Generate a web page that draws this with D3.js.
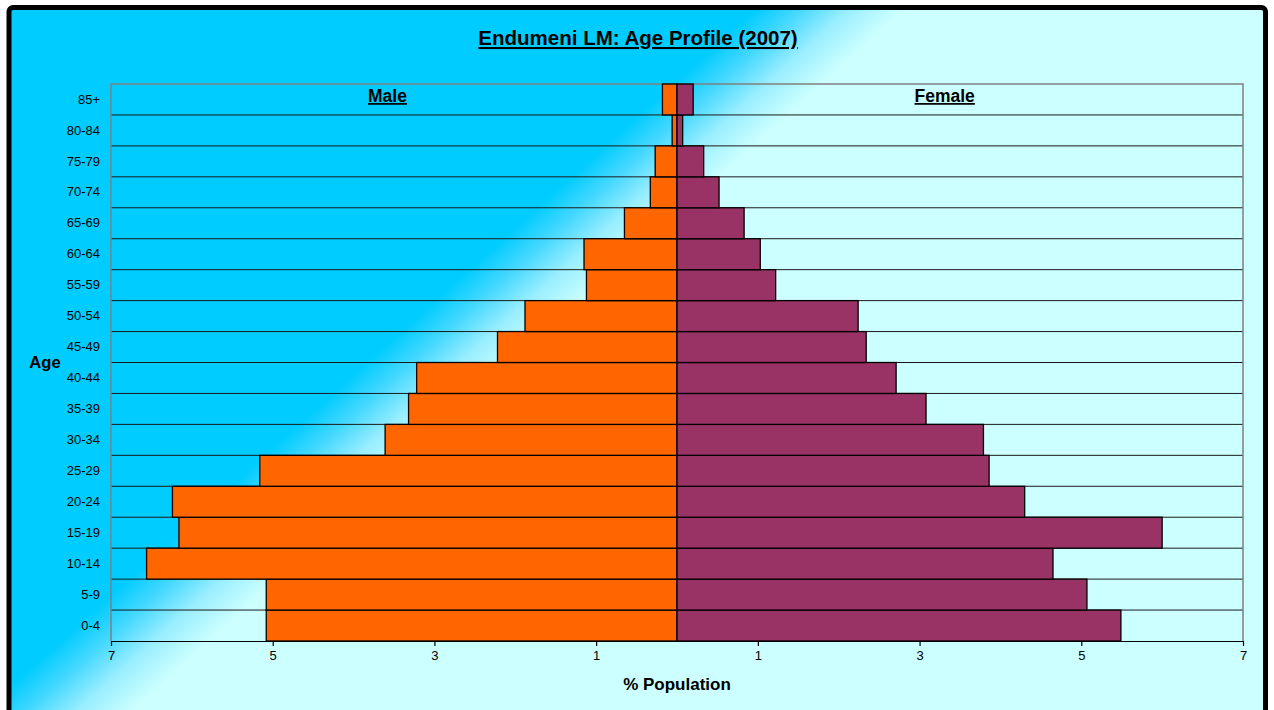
<!DOCTYPE html>
<html>
<head>
<meta charset="utf-8">
<script src="https://cdn.jsdelivr.net/npm/d3@7"></script>
<style>
  html, body { margin: 0; padding: 0; background: #ffffff; }
  svg { display: block; font-family: "Liberation Sans", Arial, sans-serif; }
</style>
</head>
<body>
<svg id="chart" width="1274" height="710"></svg>
<script>
// Age groups, youngest first
const ageGroups = ["0-4", "5-9", "10-14", "15-19", "20-24", "25-29", "30-34", "35-39",
  "40-44", "45-49", "50-54", "55-59", "60-64", "65-69", "70-74", "75-79", "80-84", "85+"];

// Share of total population (%) per age group
const malePct = [5.08, 5.08, 6.56, 6.16, 6.24, 5.16, 3.61, 3.32,
  3.22, 2.22, 1.88, 1.12, 1.15, 0.65, 0.33, 0.27, 0.06, 0.18];
const femalePct = [5.49, 5.07, 4.65, 6.00, 4.30, 3.86, 3.79, 3.08,
  2.71, 2.34, 2.24, 1.22, 1.03, 0.83, 0.52, 0.33, 0.07, 0.20];

// Axis ticks (males plotted to the left as negatives, labelled as absolute values)
const xTicks = [-7, -5, -3, -1, 1, 3, 5, 7];

const titleText = "Endumeni LM: Age Profile (2007)";

const svg = d3.select("#chart");

// Background gradient: deep sky blue to pale cyan along a diagonal
const defs = svg.append("defs");
const grad = defs.append("linearGradient")
  .attr("id", "bgGrad")
  .attr("gradientUnits", "userSpaceOnUse")
  .attr("x1", 0).attr("y1", 0)
  .attr("x2", 672.5).attr("y2", 739.7);
grad.append("stop").attr("offset", 0.515).attr("stop-color", "#00CCFF");
grad.append("stop").attr("offset", 0.545).attr("stop-color", "#44D8FF");
grad.append("stop").attr("offset", 0.578).attr("stop-color", "#99EEFF");
grad.append("stop").attr("offset", 0.615).attr("stop-color", "#CCFFFF");

// Chart frame
svg.append("rect")
  .attr("x", 9).attr("y", 7.5)
  .attr("width", 1256.5).attr("height", 740)
  .attr("rx", 4)
  .attr("fill", "url(#bgGrad)")
  .attr("stroke", "#000").attr("stroke-width", 5);

// Plot area
const plot = { left: 111, right: 1243, top: 84, bottom: 641 };

const x = d3.scaleLinear().domain([-7, 7]).range([plot.left, plot.right]);
const y = d3.scaleBand()
  .domain(ageGroups.slice().reverse())
  .range([plot.top, plot.bottom])
  .paddingInner(0).paddingOuter(0);

const rows = ageGroups.map((g, i) => ({ group: g, male: malePct[i], female: femalePct[i] }));

// Row separators spanning the plot width
const g = svg.append("g");
const bounds = y.domain().slice(1).map(d => y(d));
g.selectAll("line.sep").data(bounds).join("line")
  .attr("class", "sep")
  .attr("x1", plot.left).attr("x2", plot.right)
  .attr("y1", d => d).attr("y2", d => d)
  .attr("stroke", "#1a1a1a").attr("stroke-width", 1);

// Plot border (left, top, right)
g.append("path")
  .attr("d", `M${plot.left},${plot.bottom}V${plot.top}H${plot.right}V${plot.bottom}`)
  .attr("fill", "none").attr("stroke", "#808080").attr("stroke-width", 1.5);

// Male bars (left)
g.selectAll("rect.male").data(rows).join("rect")
  .attr("class", "male")
  .attr("x", d => x(-d.male))
  .attr("y", d => y(d.group))
  .attr("width", d => x(0) - x(-d.male))
  .attr("height", y.bandwidth())
  .attr("fill", "#FF6600")
  .attr("stroke", "#000").attr("stroke-width", 1.3);

// Female bars (right)
g.selectAll("rect.female").data(rows).join("rect")
  .attr("class", "female")
  .attr("x", x(0))
  .attr("y", d => y(d.group))
  .attr("width", d => x(d.female) - x(0))
  .attr("height", y.bandwidth())
  .attr("fill", "#993366")
  .attr("stroke", "#000").attr("stroke-width", 1.3);

// Bottom value axis
const xAxis = d3.axisBottom(x)
  .tickValues(xTicks)
  .tickFormat(d => Math.abs(d))
  .tickSizeInner(5).tickSizeOuter(0).tickPadding(5);
const xa = svg.append("g")
  .attr("transform", `translate(0,${plot.bottom})`)
  .call(xAxis);
xa.select(".domain").attr("stroke", "#000").attr("stroke-width", 1.2);
xa.selectAll(".tick line").attr("stroke", "#000").attr("stroke-width", 1.2);
xa.selectAll(".tick text")
  .attr("font-size", 13).attr("fill", "#000")
  .attr("font-family", "Liberation Sans, Arial, sans-serif");

// Category labels
const ya = svg.append("g")
  .attr("transform", `translate(${plot.left},0)`)
  .call(d3.axisLeft(y).tickSize(0).tickPadding(11));
ya.select(".domain").remove();
ya.selectAll(".tick text")
  .attr("font-size", 13).attr("fill", "#000")
  .attr("font-family", "Liberation Sans, Arial, sans-serif");

// Title
svg.append("text")
  .attr("x", 638).attr("y", 45)
  .attr("text-anchor", "middle")
  .attr("font-size", 20.5).attr("font-weight", "bold")
  .style("text-decoration", "underline")
  .text(titleText);

// Series labels inside the plot
svg.append("text")
  .attr("x", 387.5).attr("y", 102)
  .attr("text-anchor", "middle")
  .attr("font-size", 17.5).attr("font-weight", "bold")
  .style("text-decoration", "underline")
  .text("Male");
svg.append("text")
  .attr("x", 944.7).attr("y", 102)
  .attr("text-anchor", "middle")
  .attr("font-size", 17.5).attr("font-weight", "bold")
  .style("text-decoration", "underline")
  .text("Female");

// Axis titles
svg.append("text")
  .attr("x", 45).attr("y", 368)
  .attr("text-anchor", "middle")
  .attr("font-size", 16.6).attr("font-weight", "bold")
  .text("Age");
svg.append("text")
  .attr("x", 677).attr("y", 690)
  .attr("text-anchor", "middle")
  .attr("font-size", 17).attr("font-weight", "bold")
  .text("% Population");
</script>
</body>
</html>
